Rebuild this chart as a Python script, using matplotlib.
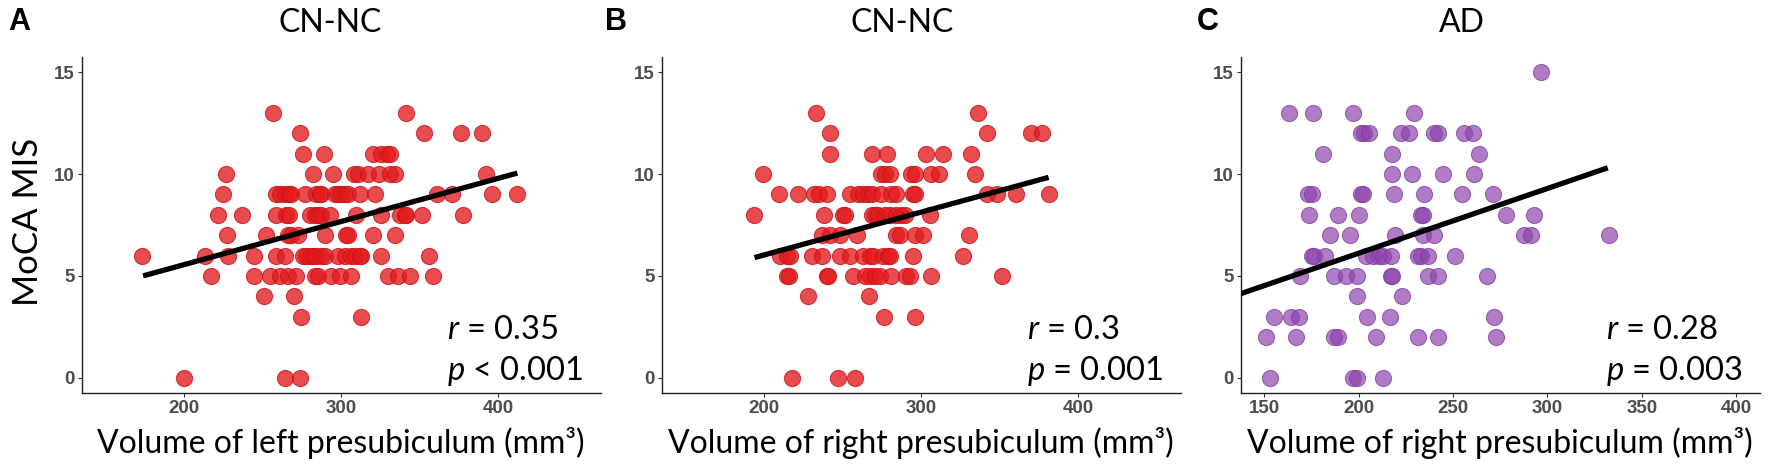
import matplotlib
matplotlib.use("Agg")
import matplotlib.pyplot as plt

plt.rcParams['font.family'] = ['Lato', 'DejaVu Sans']
plt.rcParams['mathtext.fontset'] = 'custom'
plt.rcParams['mathtext.it'] = 'Lato:italic'
plt.rcParams['mathtext.rm'] = 'Lato'

# ---------------- data ----------------
# Panel A: CN-NC, left presubiculum
a_vol = [256.5, 341.5,
         273.5, 352.8, 376, 389.3,
         276, 289, 320, 325, 329, 331,
         227, 282, 295, 308, 311, 317, 324, 331, 334, 392,
         225, 258.6, 260.8, 264, 266.7, 268.2, 276.7, 284.1, 286.3, 287.3, 295.8, 298, 300.1,
         302.2, 304.3, 311.8, 321.3, 361, 370.6, 395.7, 411.6,
         221.4, 237, 258.6, 265, 267.1, 279.9, 283.1, 285.2, 287.3, 292.6, 309.6, 325.2, 337.3,
         340.4, 341.5, 351.5, 377.6,
         227.4, 252.3, 266.1, 268.2, 272.5, 289.5, 303.3, 304.3, 320.3, 334.1,
         173.6, 213.6, 227.8, 244.4, 258.6, 264, 275.6, 277.8, 279.9, 282, 284.1, 287.3, 289.5,
         298, 302.2, 306.5, 308.6, 311.8, 312.8, 325.2, 356,
         217.2, 244.8, 254.8, 260.8, 266.1, 271, 283.1, 285.2, 293.7, 299, 306.5, 329.8, 336.2,
         343.6, 358.5,
         251.2, 270,
         274.6, 312.4,
         200, 264, 274]
a_mis = ([13] * 2 + [12] * 4 + [11] * 6 + [10] * 10 + [9] * 21 + [8] * 17 + [7] * 10
         + [6] * 21 + [5] * 15 + [4] * 2 + [3] * 2 + [0] * 3)

# Panel B: CN-NC, right presubiculum
b_vol = [233.3, 335.8,
         241.7, 342.1, 369.5, 376.8,
         241.7, 268.4, 278.5, 303.2, 313.7, 331.6,
         199.6, 274.7, 276.8, 280, 293.7, 295.8, 306.3, 311.6, 334.1,
         209.9, 221.5, 231.6, 234.7, 240, 254.7, 260, 263.2, 266.3, 268.4, 274.7, 281.1, 284.2,
         294.7, 295.8, 342.1, 348.4, 360, 381.5,
         193.7, 237.9, 250.1, 251.6, 268.4, 270.5, 272.6, 276.8, 280, 284.2, 287.4, 289.5, 305.3,
         236.8, 242.1, 248.4, 258.9, 284.2, 286.3, 295.8, 301.1, 330.5,
         210.5, 214.7, 216.8, 230.5, 236.8, 248.4, 254.7, 263.2, 267.4, 269.5, 275.8, 278.9, 280,
         294.7, 326.3,
         214.7, 215.8, 240, 241, 256.8, 264.2, 267.4, 270.5, 273.7, 281, 290.5, 292.6, 306.3, 351.6,
         228, 267,
         276.4, 295.8,
         217.9, 247.4, 257.9]
b_mis = ([13] * 2 + [12] * 4 + [11] * 6 + [10] * 9 + [9] * 19 + [8] * 13 + [7] * 9
         + [6] * 15 + [5] * 14 + [4] * 2 + [3] * 2 + [0] * 3)

# Panel C: AD, right presubiculum
c_vol = [296.6,
         163.3, 176, 196.8, 229.2,
         201.2, 203, 205.7, 222.4, 226.9, 240.1, 241.9, 256, 260.8,
         180.9, 217.7, 263.6,
         217.7, 228.3, 244.5, 261.3,
         173, 175.3, 201.2, 202.1, 218.9, 234.8, 254.6, 271.4,
         173.5, 188.9, 200, 233, 234.3, 278.1, 292.8,
         184.8, 195.6, 219.4, 233.9, 240.1, 287.8, 291.3, 332.5,
         175.3, 176.2, 182.2, 203.9, 207.4, 210.6, 212.7, 217.1, 231.3, 233, 236.6, 251.2,
         169.1, 187.1, 193.3, 198.9, 217.1, 217.7, 236.6, 241.9, 268,
         199.1, 223,
         155.3, 164.1, 168.6, 204.2, 216.6, 271.9,
         150.9, 166.8, 187.1, 188.9, 209.2, 231.6, 242.2, 272.8,
         153.2, 196.8, 198.9, 212.7]
c_mis = ([15] * 1 + [13] * 4 + [12] * 9 + [11] * 3 + [10] * 4 + [9] * 8 + [8] * 7 + [7] * 8
         + [6] * 12 + [5] * 9 + [4] * 2 + [3] * 6 + [2] * 8 + [0] * 4)

# regression line end points
a_fit_x, a_fit_y = [174, 412], [5.0, 10.05]
b_fit_x, b_fit_y = [194, 381], [5.9, 9.84]
c_fit_x, c_fit_y = [137.6, 332], [4.13, 10.31]

panel_letters = ["A", "B", "C"]
titles = ["CN-NC", "CN-NC", "AD"]
xlabels = ["Volume of left presubiculum (mm³)",
           "Volume of right presubiculum (mm³)",
           "Volume of right presubiculum (mm³)"]
r_texts = ["0.35", "0.3", "0.28"]
p_texts = ["< 0.001", "= 0.001", "= 0.003"]
x_ticks = [[200, 300, 400], [200, 300, 400], [150, 200, 250, 300, 350, 400]]
x_lims = [(135, 465), (135, 465), (137.5, 412.5)]
y_ticks = [0, 5, 10, 15]

# ---------------- figure ----------------
W, H = 1772, 471
fig = plt.figure(figsize=(W / 100, H / 100), dpi=100)

ax_left_px = [81.7, 661.7, 1240.7]
ax_w_px = 519
ax_top_px, ax_bot_px = 57, 393
title_cx = [330, 902, 1462]
letter_x = [8, 605, 1197]

reds = dict(color="#E31A1C", alpha=0.78, edgecolor="#C81419")
purples = dict(color="#8E44AD", alpha=0.70, edgecolor="#7D3C98")
styles = [reds, reds, purples]
vols = [a_vol, b_vol, c_vol]
mis = [a_mis, b_mis, c_mis]
fits = [(a_fit_x, a_fit_y), (b_fit_x, b_fit_y), (c_fit_x, c_fit_y)]

tick_font = dict(family=['Liberation Sans', 'DejaVu Sans'], weight='bold', size=13.5)

for i in range(3):
    ax = fig.add_axes([ax_left_px[i] / W, 1 - ax_bot_px / H, ax_w_px / W,
                       (ax_bot_px - ax_top_px) / H])
    st = styles[i]
    ax.scatter(vols[i], mis[i], s=135, c=st["color"], alpha=st["alpha"],
               edgecolors=st["edgecolor"], linewidths=0.8, zorder=2)
    ax.plot(fits[i][0], fits[i][1], color="black", lw=3.8, solid_capstyle="butt", zorder=3)
    ax.set_xlim(*x_lims[i])
    ax.set_ylim(-0.75, 15.75)
    ax.set_xticks(x_ticks[i])
    ax.set_yticks(y_ticks)
    for side in ("top", "right"):
        ax.spines[side].set_visible(False)
    for side in ("left", "bottom"):
        ax.spines[side].set_color("#222222")
        ax.spines[side].set_linewidth(1.0)
    ax.tick_params(axis="both", length=3, width=0.8, color="#333333", pad=2,
                   labelcolor="#4D4D4D")
    for lab in ax.get_xticklabels() + ax.get_yticklabels():
        lab.set_fontfamily(tick_font["family"])
        lab.set_fontweight(tick_font["weight"])
        lab.set_fontsize(tick_font["size"])
    ax.set_xlabel(xlabels[i], fontsize=23, labelpad=7, color="black")
    ax.text(0.703, 0.160, r"$\mathit{r}$ = " + r_texts[i], transform=ax.transAxes,
            fontsize=23.5, ha="left", va="baseline")
    ax.text(0.703, 0.039, r"$\mathit{p}$ " + p_texts[i], transform=ax.transAxes,
            fontsize=23.5, ha="left", va="baseline")
    fig.text(title_cx[i] / W, 1 - 22.5 / H, titles[i], fontsize=23,
             ha="center", va="center")
    fig.text(letter_x[i] / W, 1 - 22.5 / H, panel_letters[i], fontsize=22,
             family=['Liberation Sans', 'DejaVu Sans'], weight='bold',
             ha="left", va="center")

fig.text(28 / W, 1 - 222 / H, "MoCA MIS", fontsize=25, rotation=90,
         ha="center", va="center")

fig.savefig("out.png", dpi=100)
